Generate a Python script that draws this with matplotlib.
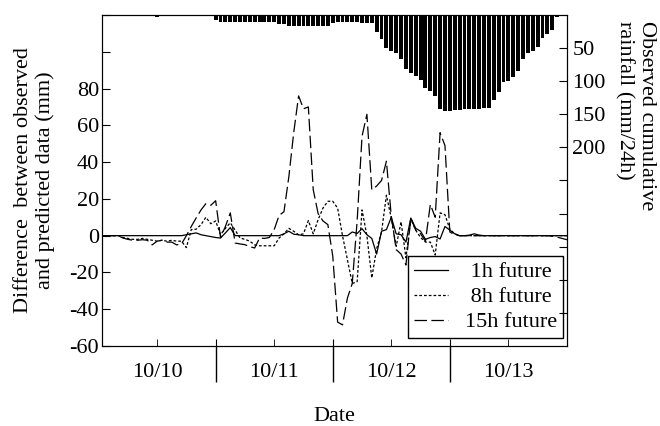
import numpy as np
import matplotlib.pyplot as plt

plt.rcParams['font.family'] = ['Liberation Serif', 'DejaVu Serif']
plt.rcParams['font.size'] = 16

# hours from 10/10 00:00
hours = np.arange(1, 97)

# observed cumulative rainfall (mm/24h), hourly
rain = [1.5, 1.5, 1.5, 1.5, 1.5, 1.5, 1.5, 1.5, 1.5, 1.5, 1.5, 3,
        0.3, 0.3, 0.3, 0.3, 0.3, 0.3, 1.5, 1.5, 1.5, 1.5, 1.5, 7.6,
        10, 10, 10, 10, 10, 10, 10, 10, 10, 10, 10, 10,
        13.5, 13.5, 16, 16, 16, 16, 16, 16, 16, 16, 16, 12.6,
        10, 10, 10, 10, 10, 11.6, 11.6, 12, 25, 36, 50, 54,
        57, 67, 81, 88, 92.5, 98.5, 110, 115, 122, 142.5, 145, 145,
        144, 143, 142, 142, 142, 142, 141, 140, 129, 116, 101, 99.5,
        93, 84, 66, 58, 54.5, 49, 35, 29, 23, 2.5, 0, 0]

# difference between observed and predicted (mm)
diff_1h = [0, 0, 0, 0, 0, 0, 0, 0, 0, 0, 0, 0,
           0, 0, 0, 0, 0, 0.5, 1, 1.5, 0.5, 0, -0.5, -1,
           -1.3, 1.5, 4.4, 0, 0, 0, 0, 0, 0, 0, 0, 0,
           0, 1, 2.4, 0.8, 0.5, 0, 0, 0, 0, 0, 0, 0,
           0, 0, 0, 2, 1.2, 3.8, 0.5, -1.5, -10, 2.4, 3.3, 10,
           1, 0.5, -3.5, 9.6, 4, 2.4, -2, -1, -0.5, -1.8, 5, 3,
           1, 0, 0, 0.3, 1, 0.3, 0, 0, 0, 0, 0, 0,
           0, 0, 0, 0, 0, 0, 0, 0, 0, 0, 0, 0]
diff_8h = [0, 0, 0, 0, -1, -1.5, -2, -2, -1.5, -2, -2.5, -3,
           -2.5, -3, -2.5, -3, -3, -6.5, 3.3, 3.5, 6, 10, 6.5, 8,
           0.5, 4, 7, 3, -1.3, -2, -3, -5, -5.5, -5.5, -5.5, -5.5,
           -1.3, 1, 4, 2.4, 0.5, 1, 8.2, 1, 8.7, 15, 18.7, 18.7,
           15, 0, -13, -26, -25, 14, 0, -23, -7, 2, 22, 9.5,
           -5.8, 7.5, -12, 9, 3, -1, -3.5, -3.5, -10.5, 12.4, 11.4, 3.5,
           1, 0, 0, 0, 0, 0, 0, 0, 0, 0, 0, 0,
           0, 0, 0, 0, 0, 0, 0, 0, 0, 0, 0, 0]
diff_15h = [0, 0, 0, 0, -1.3, -2, -2.5, -2.5, -2.2, -2.5, -5, -3,
            -2.5, -3.5, -3.5, -5, -4.5, 0, 5, 9.6, 14, 17.4, 16.5, 19,
            -1, 5, 12.4, -4, -4.5, -4.9, -6, -6.7, -1.3, -1.5, -1, 3.3,
            11, 13, 32, 56, 76, 69, 70, 25, 12, 8, 6, -11,
            -47, -48.5, -34, -26, 8, 54, 66, 25, 27, 30, 40.5, 10.5,
            -7.6, -10, -16, 9.6, 3, 1, -3, 17, 10, 56, 49, 2,
            0.5, 0, 0, 0, 0, 0, 0, 0, 0, 0, 0, 0,
            0, 0, 0, 0, 0, 0, 0, 0, -0.3, -0.8, -1.5, -2.2]

day_labels = ['10/10', '10/11', '10/12', '10/13']

fig = plt.figure(figsize=(6.6, 4.26), dpi=100)
ax = fig.add_axes([0.1545, 0.1878, 0.7045, 0.777])

ax.plot(hours, diff_1h, color='black', lw=0.9, label=' 1h future')
ax.plot(hours, diff_8h, color='black', lw=0.9, linestyle=(0, (2.2, 1.6)),
        label=' 8h future')
ax.plot(hours, diff_15h, color='black', lw=0.9, linestyle=(0, (10, 3.5)),
        label='15h future')

ax.set_xlim(0.7, 96)
ax.set_ylim(-60, 120)
ax.set_yticks(np.arange(-60, 121, 20))
ax.set_yticklabels([str(v) if v <= 80 else '' for v in range(-60, 121, 20)])
ax.tick_params(axis='y', direction='in', length=6, pad=2, right=False)

# day boundaries as long ticks, day names in between
ax.set_xticks([24, 48, 72])
ax.set_xticklabels([])
ax.set_xticks([12, 36, 60, 84], minor=True)
ax.set_xticklabels(day_labels, minor=True)
ax.tick_params(axis='x', which='major', direction='out', length=26, width=1)
ax.tick_params(axis='x', which='minor', direction='in', length=5, pad=12)

ax.set_ylabel('Difference  between observed\nand predicted data (mm)',
              multialignment='center')
ax.yaxis.set_label_coords(-0.1, 0.5)
ax.set_xlabel('Date')
ax.xaxis.set_label_coords(0.5, -0.183)

leg = ax.legend(loc='lower right', bbox_to_anchor=(0.991, 0.024),
                borderaxespad=0, fancybox=False, framealpha=1,
                edgecolor='black', handlelength=1.55, labelspacing=0.2,
                borderpad=0.25, handletextpad=0.75)
leg.get_frame().set_linewidth(1.0)

# rainfall bars hanging from the top
ax2 = ax.twinx()
ax2.bar(hours, rain, width=0.8, color='black')
ax2.set_ylim(500, 0)
ax2.set_yticks(np.arange(50, 451, 50))
ax2.set_yticklabels([str(v) if v <= 200 else '' for v in range(50, 451, 50)])
ax2.tick_params(axis='y', direction='in', length=6, pad=4)
ax2.xaxis.set_visible(True)
ax2.tick_params(axis='x', which='major', direction='in', length=5,
                labelbottom=False)
ax2.tick_params(axis='x', which='minor', length=0, labelbottom=False)

fig.text(635 / 660, 1 - 21 / 426, 'Observed cumulative\nrainfall (mm/24h)',
         rotation=270, ha='center', va='top', multialignment='left')

fig.savefig('out.png', dpi=100)
